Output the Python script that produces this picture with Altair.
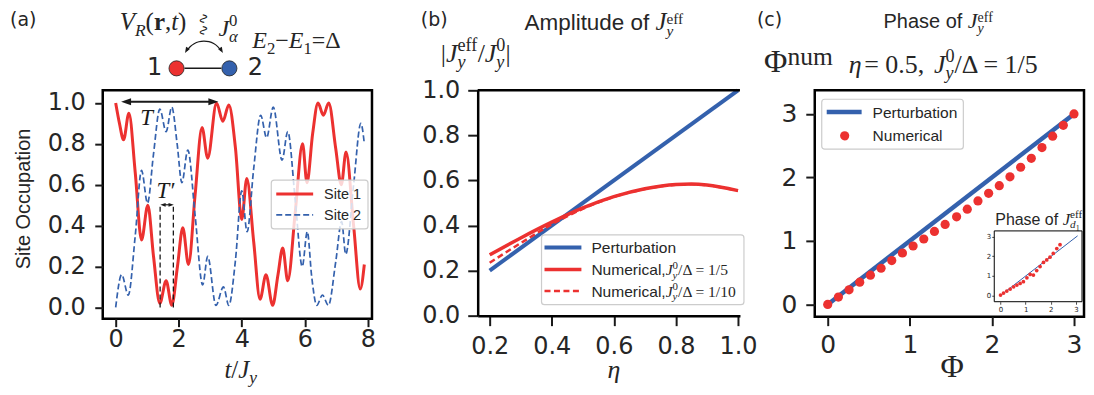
import altair as alt
import pandas as pd

# ---------------- panel (a): site occupations ----------------
t_site1 = [0.00, 0.12, 0.25, 0.42, 0.62, 0.82, 1.02, 1.20, 1.40, 1.60, 1.78, 1.96, 2.13, 2.31, 2.52,
           2.74, 2.92, 3.20, 3.40, 3.59, 3.80, 4.00, 4.16, 4.38, 4.58, 4.77, 4.98, 5.15, 5.30, 5.46,
           5.70, 5.93, 6.07, 6.25, 6.42, 6.59, 6.76, 6.98, 7.16, 7.31, 7.55, 7.76, 7.89]
occ_site1 = [1.00, 0.90, 0.82, 0.95, 0.66, 0.33, 0.50, 0.25, 0.02, 0.13, 0.01, 0.20, 0.39, 0.21, 0.55,
             0.88, 0.73, 1.00, 0.91, 0.99, 0.78, 0.43, 0.63, 0.32, 0.04, 0.16, 0.01, 0.16, 0.29, 0.13,
             0.47, 0.80, 0.61, 0.85, 1.00, 0.94, 1.00, 0.78, 0.60, 0.76, 0.40, 0.09, 0.21]
t_site2 = [0.00, 0.19, 0.40, 0.62, 0.82, 1.01, 1.20, 1.40, 1.60, 1.78, 1.95, 2.10, 2.29, 2.52, 2.76,
           2.92, 3.18, 3.42, 3.59, 3.80, 4.00, 4.17, 4.38, 4.60, 4.79, 5.00, 5.28, 5.46, 5.70, 5.92,
           6.08, 6.22, 6.38, 6.56, 6.75, 6.98, 7.17, 7.30, 7.55, 7.78, 7.89]
occ_site2 = [0.00, 0.16, 0.06, 0.35, 0.67, 0.51, 0.75, 0.97, 0.86, 0.98, 0.80, 0.61, 0.77, 0.45, 0.11,
             0.25, 0.01, 0.10, 0.01, 0.23, 0.57, 0.37, 0.68, 0.94, 0.83, 0.98, 0.72, 0.86, 0.52, 0.20,
             0.37, 0.15, 0.01, 0.06, 0.01, 0.22, 0.42, 0.26, 0.60, 0.90, 0.80]
site_labels = ["Site 1", "Site 2"]
period_T_t = [0.33, 3.10]
period_T_v = [1.006]
period_Tp_t = [1.50, 1.76]
period_Tp_v = [0.502]
guide_t = [1.41, 1.83]
guide_v = [0.0, 0.5]
label_T = ["T", "T\u2032"]
label_T_t = [0.98, 1.58]
label_T_v = [0.925, 0.57]

# ---------------- panel (b): amplitude ----------------
eta_pert = [0.2, 1.0]
amp_pert = [0.2, 1.0]
eta_num = [0.2, 0.3, 0.4, 0.5, 0.6, 0.7, 0.8, 0.85, 0.9, 1.0]
amp_num_5 = [0.27, 0.345, 0.415, 0.478, 0.528, 0.563, 0.582, 0.584, 0.58, 0.555]
amp_num_10 = [0.235, 0.322, 0.405, 0.474, 0.527, 0.562, 0.581, 0.583, 0.579, 0.554]

# ---------------- panel (c): phase ----------------
phi_pert = [0.0, 3.0]
phinum_pert = [0.0, 3.0]
phi_num = [0.00, 0.13, 0.26, 0.39, 0.52, 0.65, 0.78, 0.91, 1.04, 1.17, 1.30, 1.43, 1.57, 1.70, 1.83,
           1.96, 2.09, 2.22, 2.35, 2.48, 2.61, 2.74, 2.87, 3.00]
phinum_num = [0.00, 0.115, 0.23, 0.35, 0.46, 0.57, 0.69, 0.81, 0.92, 1.03, 1.15, 1.26, 1.38, 1.50, 1.63,
              1.75, 1.87, 2.01, 2.16, 2.30, 2.47, 2.65, 2.82, 3.00]
phi_inset_pert = [0.0, 3.07]
phinum_inset_pert = [0.0, 3.04]
phi_inset = [0.00, 0.12, 0.25, 0.385, 0.52, 0.65, 0.78, 0.91, 1.05, 1.18, 1.31, 1.44, 1.575, 1.71, 1.84,
             1.97, 2.10, 2.24, 2.37]
phinum_inset = [0.02, 0.12, 0.22, 0.325, 0.44, 0.53, 0.61, 0.70, 0.90, 1.07, 1.04, 1.27, 1.47, 1.68, 1.81,
                1.95, 2.14, 2.39, 2.59]

# ---------------- styling ----------------
INK = "#1a1a1a"
LBL = "#262626"
RED = "#ec3130"
BLUE = "#3461ad"
SERIF = "Liberation Serif"
SANS = "Liberation Sans"
DJV = "DejaVu Sans"
ONE = pd.DataFrame({"k": [0]})

WID = {
    "r": {"(": .333, ")": .333, ",": .25, " ": .25, "=": .564, ".": .25, "/": .278, "\u0394": .612,
          "\u2212": .564, "|": .2, "\u03a6": .74, "n": .5, "u": .5, "m": .778, "e": .444, "f": .333},
    "i": {"J": .444, "y": .444, "t": .278, "V": .611, "R": .611, "E": .611, "\u03b7": .6, "\u03b1": .52, "d": .5},
    "b": {"r": .444},
    "s": {"A": .667, "m": .833, "p": .556, "l": .222, "i": .222, "t": .278, "u": .556, "d": .556, "e": .556,
          " ": .278, "o": .556, "f": .278, "P": .667, "h": .556, "a": .556, "s": .5, "N": .722, "r": .333,
          "c": .5, ",": .278, "b": .556, "n": .556},
}
KIND = {"r": (SERIF, "normal", "normal"), "i": (SERIF, "italic", "normal"),
        "b": (SERIF, "normal", "bold"), "s": (SANS, "normal", "normal")}


def wid(s, k):
    return sum(WID[k].get(c, 0.5) for c in s)


def txt(org, s, x, y, size, font=SANS, style="normal", weight="normal", align="left",
        baseline="alphabetic", angle=None, color=LBL):
    """text at page position (x, y); org = page position of the panel's plot origin"""
    kw = dict(text=s, font=font, fontSize=size, fontStyle=style, fontWeight=weight,
              align=align, baseline=baseline, color=color)
    if angle is not None:
        kw["angle"] = angle
    return alt.Chart(ONE).mark_text(**kw).encode(x=alt.value(x - org[0]), y=alt.value(y - org[1]))


def N(s, k="r", sc=1.0, dy=0.0):
    return ("N", s, k, sc, dy)


def SUB(s, k="i", sc=0.7, dy=0.22):
    return ("N", s, k, sc, dy)


def SS(sub, sup, ksub="i", ksup="r", sc=0.7, dsub=0.22, dsup=-0.42):
    return ("SS", [(sub, ksub, sc, dsub)], [(sup, ksup, sc, dsup)])


def mtext(org, pieces, x, y, size, align="left", color=LBL):
    placed = []
    cx = 0.0
    for p in pieces:
        if p[0] == "N":
            _, s, k, sc, dy = p
            placed.append((cx, s, k, sc, dy))
            cx += wid(s, k) * size * sc
        else:
            ends = []
            for run in p[1:]:
                rx = cx
                for s, k, sc, dy in run:
                    placed.append((rx, s, k, sc, dy))
                    rx += wid(s, k) * size * sc
                ends.append(rx)
            cx = max(ends)
    sh = -cx / 2 if align == "center" else 0.0
    out = []
    for ox, s, k, sc, dy in placed:
        f, st, wt = KIND[k]
        out.append(txt(org, s, x + sh + ox, y + dy * size, size * sc,
                       font=f, style=st, weight=wt, color=color))
    return out


def box(org, x0, y0, x1, y1):
    return alt.Chart(ONE).mark_rect(fill="white", fillOpacity=0.8, stroke="#cccccc", strokeWidth=1.2,
                                    cornerRadius=3).encode(
        x=alt.value(x0 - org[0]), x2=alt.value(x1 - org[0]),
        y=alt.value(y0 - org[1]), y2=alt.value(y1 - org[1]))


def hrule(org, x0, x1, y, color, w, dash=None):
    kw = dict(color=color, strokeWidth=w)
    if dash:
        kw["strokeDash"] = dash
    return alt.Chart(ONE).mark_rule(**kw).encode(
        x=alt.value(x0 - org[0]), x2=alt.value(x1 - org[0]), y=alt.value(y - org[1]))


def dot(org, x, y, size, fill, stroke=None):
    kw = dict(shape="circle", filled=True, size=size, fill=fill, opacity=1)
    if stroke:
        kw.update(stroke=stroke, strokeWidth=0.8)
    return alt.Chart(ONE).mark_point(**kw).encode(x=alt.value(x - org[0]), y=alt.value(y - org[1]))


def head(org, x, y, shape, size, angle=None):
    kw = dict(shape=shape, filled=True, size=size, color=INK, opacity=1)
    if angle is not None:
        kw["angle"] = angle
    return alt.Chart(ONE).mark_point(**kw).encode(x=alt.value(x - org[0]), y=alt.value(y - org[1]))


LEFT = "M-1,0L1,-0.7L1,0.7Z"
RIGHT = "M1,0L-1,-0.7L-1,0.7Z"
UP = "M0,-1L0.75,1L-0.75,1Z"

# =============== panel (a) ===============
A0 = (101, 88)
WA, HA = 270, 229
xsa = alt.Scale(domain=[-0.411, 8.133], nice=False, zero=False)
ysa = alt.Scale(domain=[-0.0551, 1.062], nice=False, zero=False)
axa_x = alt.Axis(values=[0, 2, 4, 6, 8], format="d", title=None, labelPadding=1, tickSize=8)
axa_y = alt.Axis(values=[0, 0.2, 0.4, 0.6, 0.8, 1.0], format=".1f", title=None, labelPadding=9.5, tickSize=8)


def XA(f):
    return alt.X(f, type="quantitative", scale=xsa, axis=axa_x)


def YA(f):
    return alt.Y(f, type="quantitative", scale=ysa, axis=axa_y)


la = []
la.append(alt.Chart(pd.DataFrame({"t": t_site1, "occ": occ_site1})).mark_line(
    color=RED, strokeWidth=3, interpolate="monotone").encode(x=XA("t"), y=YA("occ")))
la.append(alt.Chart(pd.DataFrame({"t": t_site2, "occ": occ_site2})).mark_line(
    color=BLUE, strokeWidth=1.7, strokeDash=[6, 3], interpolate="monotone").encode(x=XA("t"), y=YA("occ")))
dfg = pd.DataFrame({"t": guide_t, "v0": [guide_v[0]] * 2, "v1": [guide_v[1]] * 2})
la.append(alt.Chart(dfg).mark_rule(color=INK, strokeWidth=1.3, strokeDash=[5, 3]).encode(
    x=XA("t"), y=YA("v0"), y2="v1"))
for tt, vv, sz, w in [(period_T_t, period_T_v, 100, 2), (period_Tp_t, period_Tp_v, 28, 1.2)]:
    d = pd.DataFrame({"t0": [tt[0]], "t1": [tt[1]], "v": vv})
    la.append(alt.Chart(d).mark_rule(color=INK, strokeWidth=w).encode(x=XA("t0"), x2="t1", y=YA("v")))
    la.append(alt.Chart(d).mark_point(shape=LEFT, filled=True, size=sz, color=INK, opacity=1).encode(
        x=XA("t0"), y=YA("v")))
    la.append(alt.Chart(d).mark_point(shape=RIGHT, filled=True, size=sz, color=INK, opacity=1).encode(
        x=XA("t1"), y=YA("v")))
la.append(alt.Chart(pd.DataFrame({"lab": label_T, "t": label_T_t, "v": label_T_v})).mark_text(
    font=SERIF, fontStyle="italic", fontSize=23, color=INK, align="center", baseline="middle").encode(
    x=XA("t"), y=YA("v"), text="lab:N"))
# legend
la.append(box(A0, 270, 178, 367, 227))
la.append(hrule(A0, 275, 312, 192, RED, 3))
la.append(txt(A0, site_labels[0], 323, 197.2, 14.5))
la.append(hrule(A0, 275, 312, 213, BLUE, 1.7, dash=[6, 3]))
la.append(txt(A0, site_labels[1], 323, 218.2, 14.5))
# anchor (page 8,8) + labels
la.append(alt.Chart(ONE).mark_rule(color="white", strokeWidth=1).encode(
    x=alt.value(8 - A0[0]), x2=alt.value(9 - A0[0]), y=alt.value(8 - A0[1])))
la.append(txt(A0, "(a)", 8, 17.5, 19, font=DJV, baseline="middle"))
la += mtext(A0, [N("V", "i"), SUB("R"), N("("), N("r", "b"), N(","), N("t", "i"), N(")")], 118, 28, 25)
la.append(txt(A0, "\u223f\u223f", 202, 22, 14, font=DJV, align="center", baseline="middle", angle=90, color=INK))
la += mtext(A0, [N("J", "i"), SS("\u03b1", "0")], 217, 34, 24)
la.append(alt.Chart(ONE).mark_arc(radius=20.3, radius2=19.1, theta=5.24, theta2=7.32, color=INK).encode(
    x=alt.value(202.5 - A0[0]), y=alt.value(58.3 - A0[1])))
la.append(head(A0, 185, 48, UP, 35, angle=210))
la.append(head(A0, 220, 48, UP, 35, angle=150))
la += mtext(A0, [N("E", "i"), SUB("2", "r"), N("\u2212"), N("E", "i"), SUB("1", "r"), N("="), N("\u0394")],
            251, 46, 24)
la.append(hrule(A0, 183, 220, 66, INK, 1.5))
la.append(dot(A0, 175, 66, 230, RED, "#222"))
la.append(dot(A0, 228, 66, 230, BLUE, "#222"))
la.append(txt(A0, "1", 153, 66, 24, font=DJV, align="center", baseline="middle"))
la.append(txt(A0, "2", 254, 66, 24, font=DJV, align="center", baseline="middle"))
la.append(txt(A0, "Site Occupation", 22, 197, 20, align="center", baseline="middle", angle=270))
la += mtext(A0, [N("t", "i"), N("/"), N("J", "i"), SUB("y")], 223, 376, 25)
panelA = alt.layer(*la).properties(width=WA, height=HA)

# =============== panel (b) ===============
# group starts 23 px left of the visible left spine; drawing runs a little past the group width
B0 = (454, 88)
BX = 23
BR = 286
WB, HB = 278, 226
xsb = alt.Scale(domain=[0.1614, 1.0064], range=[BX, BR], nice=False, zero=False)
ysb = alt.Scale(domain=[0, 1], nice=False, zero=False)
axb_x = alt.Axis(values=[0.2, 0.4, 0.6, 0.8, 1.0], format=".1f", title=None, domain=True, domainColor="black",
                 domainWidth=2.5, tickSize=10, labelPadding=9)
axb_y = alt.Axis(values=[0, 0.2, 0.4, 0.6, 0.8, 1.0], format=".1f", title=None, domain=True, offset=-BX,
                 domainColor="black", domainWidth=2.5, tickSize=10, labelPadding=8)


def XB(f):
    return alt.X(f, type="quantitative", scale=xsb, axis=axb_x)


def YB(f):
    return alt.Y(f, type="quantitative", scale=ysb, axis=axb_y)


lb = []
lb.append(alt.Chart(pd.DataFrame({"eta": eta_pert, "amp": amp_pert})).mark_line(
    color=BLUE, strokeWidth=4).encode(x=XB("eta"), y=YB("amp")))
lb.append(alt.Chart(pd.DataFrame({"eta": eta_num, "amp": amp_num_5})).mark_line(
    color=RED, strokeWidth=3.5, interpolate="monotone").encode(x=XB("eta"), y=YB("amp")))
lb.append(alt.Chart(pd.DataFrame({"eta": eta_num, "amp": amp_num_10})).mark_line(
    color=RED, strokeWidth=2.5, strokeDash=[6, 3.5], interpolate="monotone").encode(x=XB("eta"), y=YB("amp")))
lb.append(hrule(B0, 477, 740, 88, "black", 2.5))
# legend
lb.append(box(B0, 541, 233, 744, 303))
lb.append(hrule(B0, 544, 581, 245.7, BLUE, 4))
lb.append(txt(B0, "Perturbation", 591, 251.3, 15.6))
lb.append(hrule(B0, 544, 581, 267.7, RED, 3.5))
lb += mtext(B0, [N("Numerical,", "s"), N("J", "i"), SS("y", "0"), N("/\u0394 = 1/5")], 591, 273.3, 15.6)
lb.append(hrule(B0, 544, 581, 289.3, RED, 2.5, dash=[6, 3.5]))
lb += mtext(B0, [N("Numerical,", "s"), N("J", "i"), SS("y", "0"), N("/\u0394 = 1/10")], 591, 294.9, 15.6)
# labels
lb.append(txt(B0, "(b)", 420, 17.5, 19, font=DJV, baseline="middle"))
lb += mtext(B0, [N("Amplitude of ", "s"), N("J", "i", 1.1), SS("y", "eff", sc=0.68, dsub=0.24, dsup=-0.31)],
            524, 28, 22.5)
lb += mtext(B0, [N("|"), N("J", "i"), SS("y", "eff"), N("/"), N("J", "i"), SS("y", "0"), N("|")], 440, 60, 26)
lb += mtext(B0, [N("\u03b7", "i")], 615, 376, 26, align="center")
panelB = alt.layer(*lb).properties(width=WB, height=HB, view=alt.ViewBackground(stroke="transparent"))

# =============== panel (c) ===============
C0 = (823, 88)
WC, HC = 270, 227
xsc = alt.Scale(domain=[-0.158, 3.122], nice=False, zero=False)
ysc = alt.Scale(domain=[-0.193, 3.372], nice=False, zero=False)
axc_x = alt.Axis(values=[0, 1, 2, 3], format="d", title=None, labelFontSize=25, tickSize=9, labelPadding=7,
                 orient="bottom")
axc_y = alt.Axis(values=[0, 1, 2, 3], format="d", title=None, labelFontSize=25, tickSize=9, labelPadding=9,
                 orient="left")


def XC(f):
    return alt.X(f, type="quantitative", scale=xsc, axis=axc_x)


def YC(f):
    return alt.Y(f, type="quantitative", scale=ysc, axis=axc_y)


lc = []
lc.append(alt.Chart(pd.DataFrame({"phi": phi_pert, "pn": phinum_pert})).mark_line(
    color=BLUE, strokeWidth=4.5).encode(x=XC("phi"), y=YC("pn")))
lc.append(alt.Chart(pd.DataFrame({"phi": phi_num, "pn": phinum_num})).mark_point(
    shape="circle", filled=True, size=85, color=RED, opacity=1).encode(x=XC("phi"), y=YC("pn")))
lc.append(box(C0, 830, 97, 972, 147))
lc.append(hrule(C0, 835, 870, 109.7, BLUE, 4.5))
lc.append(txt(C0, "Perturbation", 881, 115.3, 15.6))
lc.append(dot(C0, 853, 133.7, 85, RED))
lc.append(txt(C0, "Numerical", 881, 139.3, 15.6))
lc.append(txt(C0, "(c)", 765, 17.5, 19, font=DJV, baseline="middle"))
lc += mtext(C0, [N("Phase of ", "s"), N("J", "i", 1.1), SS("y", "eff", sc=0.7, dsub=0.24, dsup=-0.3)],
            892, 26, 20)
lc += mtext(C0, [N("\u03a6"), N("num", "r", 0.8, -0.22)], 772, 70, 32)
lc += mtext(C0, [N("\u03b7", "i"), N(" = 0.5,"), N(" ", "r", 0.5), N("J", "i"), SS("y", "0"),
                 N("/\u0394 = 1/5")], 857, 71, 26)
lc += mtext(C0, [N("\u03a6")], 961, 375, 32, align="center")
main_c = alt.layer(*lc)

# inset (its own scales, placed through pixel ranges)
IX0, IX1, IY0, IY1 = 1003 - C0[0], 1091 - C0[0], 229 - C0[1], 300 - C0[1]
xsi = alt.Scale(domain=[-0.25, 3.245], range=[IX0, IX1], nice=False, zero=False)
ysi = alt.Scale(domain=[-0.32, 3.29], range=[IY1, IY0], nice=False, zero=False)
axi_x = alt.Axis(values=[0, 1, 2, 3], format="d", title=None, orient="bottom", offset=-(HC - IY1),
                 labelFontSize=7, labelFont=DJV, tickSize=2.5, tickWidth=0.8, labelPadding=1, domain=False)
axi_y = alt.Axis(values=[0, 1, 2, 3], format="d", title=None, orient="left", offset=-IX0,
                 labelFontSize=7, labelFont=DJV, tickSize=2.5, tickWidth=0.8, labelPadding=1, domain=False)


def XI(f):
    return alt.X(f, type="quantitative", scale=xsi, axis=axi_x)


def YI(f):
    return alt.Y(f, type="quantitative", scale=ysi, axis=axi_y)


li = []
li.append(alt.Chart(ONE).mark_rect(fill="white", stroke="black", strokeWidth=1).encode(
    x=alt.value(IX0), x2=alt.value(IX1), y=alt.value(IY0), y2=alt.value(IY1)))
li.append(alt.Chart(pd.DataFrame({"ip": phi_inset_pert, "iq": phinum_inset_pert})).mark_line(
    color=BLUE, strokeWidth=1).encode(x=XI("ip"), y=YI("iq")))
li.append(alt.Chart(pd.DataFrame({"ip": phi_inset, "iq": phinum_inset})).mark_point(
    shape="circle", filled=True, size=14, color=RED, opacity=1).encode(x=XI("ip"), y=YI("iq")))
li += mtext(C0, [N("Phase of ", "s"), N("J", "i", 1.05),
                 ("SS", [("d", "i", 0.7, 0.22), ("1", "r", 0.5, 0.38)], [("eff", "r", 0.7, -0.42)])],
            1004, 223, 16)
inset_c = alt.layer(*li)

panelC = alt.layer(main_c, inset_c).resolve_scale(x="independent", y="independent").properties(
    width=WC, height=HC)

chart = alt.hconcat(panelA, panelB, panelC, spacing=83, bounds="flush").properties(
    padding=0
).configure_view(stroke="black", strokeWidth=2.5).configure_axis(
    grid=False, domain=False, labelFont=DJV, labelFontSize=24, labelColor=LBL, tickColor=INK,
    tickWidth=2, tickSize=8, labelPadding=3
)

chart.save("out.html", embed_options={"renderer": "svg", "actions": False})
